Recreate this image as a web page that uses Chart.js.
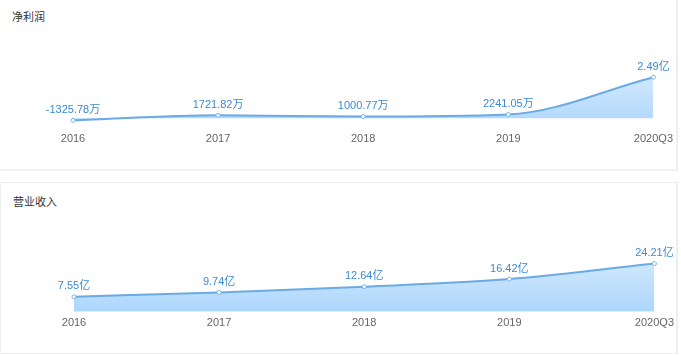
<!DOCTYPE html>
<html>
<head>
<meta charset="utf-8">
<script src="https://cdn.jsdelivr.net/npm/chart.js@4/dist/chart.umd.min.js"></script>
<style>
  body { margin: 0; background: #fff; font-family: "Noto Sans CJK SC", "Noto Sans", sans-serif; }
  .panel { position: absolute; background: #fff; box-sizing: border-box; }
  .panel .title { position: absolute; left: 12px; font-size: 11px; color: #333; }
  .panel canvas { position: absolute; left: 0; top: 0; }
  #p1 { left: 0; top: 0; width: 678px; height: 171px; border-right: 2px solid #eee; border-bottom: 2px solid #f2f2f2; }
  #p2 { left: 0; top: 182px; width: 678px; height: 172px; border: 1px solid #eee; border-right: 2px solid #eee; }
</style>
</head>
<body>
<div class="panel" id="p1">
  <div class="title" style="top:8px">净利润</div>
  <canvas id="profitChart" width="678" height="170"></canvas>
</div>
<div class="panel" id="p2">
  <div class="title" style="top:10px">营业收入</div>
  <canvas id="revenueChart" width="678" height="170"></canvas>
</div>
<script>
// Data (unit: 亿)
const periods = ['2016', '2017', '2018', '2019', '2020Q3'];
const netProfit = [-0.132578, 0.172182, 0.100077, 0.224105, 2.49];
const revenue = [7.55, 9.74, 12.64, 16.42, 24.21];

// show 万 below 1亿, otherwise 亿
function fmt(v) {
    if (Math.abs(v) < 1) return (v * 10000).toFixed(2) + '万';
    return v.toFixed(2) + '亿';
}

/* ==========================
   VALUE LABELS PLUGIN
========================== */
const valueLabels = {
    id: 'valueLabels',
    afterDatasetsDraw(chart) {
        const ctx = chart.ctx;
        const meta = chart.getDatasetMeta(0);
        const values = chart.data.datasets[0].data;
        ctx.save();
        ctx.font = '11px "Liberation Sans", "Noto Sans CJK SC", sans-serif';
        ctx.fillStyle = '#3a8ad6';
        ctx.textAlign = 'center';
        ctx.textBaseline = 'bottom';
        meta.data.forEach((pt, i) => {
            ctx.fillText(fmt(values[i]), pt.x, pt.y - 5);
        });
        ctx.restore();
    }
};

function makeChart(id, values, yMin, yMax, pad) {
    const ctx = document.getElementById(id).getContext('2d');
    return new Chart(ctx, {
        type: 'line',
        data: {
            labels: periods,
            datasets: [{
                data: values,
                borderColor: '#6aaae6',
                borderWidth: 2,
                backgroundColor: (c) => {
                    const area = c.chart.chartArea;
                    if (!area) return 'rgba(170,210,250,0.8)';
                    const g = c.chart.ctx.createLinearGradient(0, area.top, 0, area.bottom);
                    g.addColorStop(0, 'rgba(225,240,255,0.9)');
                    g.addColorStop(1, 'rgba(172,214,252,1)');
                    return g;
                },
                fill: 'origin',
                cubicInterpolationMode: 'monotone',
                pointRadius: 2,
                pointBorderWidth: 1,
                pointBackgroundColor: '#fff',
                pointBorderColor: '#7ab4ea'
            }]
        },
        options: {
            responsive: false,
            animation: false,
            layout: { padding: pad },
            plugins: { legend: { display: false }, tooltip: { enabled: false } },
            scales: {
                x: {
                    offset: false,
                    grid: { display: false, drawTicks: false },
                    border: { display: false },
                    ticks: {
                        padding: 5,
                        color: '#666',
                        font: { size: 11, family: '"Liberation Sans", sans-serif' },
                        maxRotation: 0
                    }
                },
                y: { display: false, min: yMin, max: yMax }
            }
        },
        plugins: [valueLabels]
    });
}

makeChart('profitChart', netProfit, -0.589, 4.33, { left: 73, right: 20, top: 47, bottom: 19 });
makeChart('revenueChart', revenue, 0, 41.6, { left: 73, right: 20, top: 46, bottom: 18 });
</script>
</body>
</html>
